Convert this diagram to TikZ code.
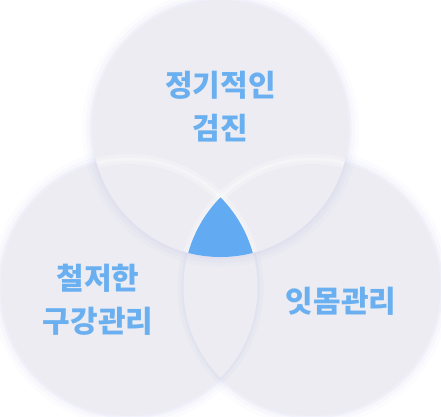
\documentclass[tikz,border=0pt]{standalone}
\usepackage{fontspec}
\setmainfont{Noto Sans CJK KR}
\definecolor{bubblegray}{HTML}{ECECF2}
\definecolor{bubbleshade}{HTML}{AEB3EA}
\definecolor{coreblue}{HTML}{62AAF2}
\definecolor{textblue}{HTML}{6AB0F0}

\begin{document}
\begin{tikzpicture}[x=1pt, y=-1pt,
	bubble/.style={fill=bubblegray},
	shade1/.style={bubbleshade, line width=20pt, opacity=0.035},
	shade2/.style={bubbleshade, line width=12pt, opacity=0.06},
	shade3/.style={bubbleshade, line width=5pt, opacity=0.09},
	venntext/.style={text=textblue, align=center,
		font=\fontsize{30}{43}\selectfont\bfseries}]
	\fill [white] (0, 0) rectangle (441, 416);
	\useasboundingbox (0, 0) rectangle (441, 416);
	\def\rad{128.5}
	\coordinate (left) at (129, 287.5);
	\coordinate (right) at (312, 287.5);
	\coordinate (top) at (220.5, 128.5);
	% the two lower circles with their soft shadows
	\foreach \c in {left, right} {
		\draw [shade1] (\c) circle (\rad);
		\draw [shade2] (\c) circle (\rad);
		\draw [shade3] (\c) circle (\rad);
	}
	\fill [bubble] (left) circle (\rad);
	\fill [bubble] (right) circle (\rad);
	% each lower circle shades the other one
	\begin{scope}
		\clip (left) circle (\rad);
		\draw [shade2] (right) circle (\rad);
		\draw [shade3] (right) circle (\rad);
	\end{scope}
	\begin{scope}
		\clip (right) circle (\rad);
		\draw [shade2] (left) circle (\rad);
		\draw [shade3] (left) circle (\rad);
	\end{scope}
	\begin{scope}
		\clip (left) circle (\rad);
		\fill [bubble] (right) circle (\rad);
	\end{scope}
	% the top circle lies over both
	\draw [shade1] (top) circle (\rad);
	\draw [shade2] (top) circle (\rad);
	\draw [shade3] (top) circle (\rad);
	\fill [bubble] (top) circle (\rad);
	% light rims of the lower circles seen through the top one
	\begin{scope}
		\clip (top) circle (\rad);
		\draw [white, line width=10pt, opacity=0.25] (left) circle (\rad);
		\draw [white, line width=10pt, opacity=0.25] (right) circle (\rad);
		\draw [white, line width=3pt, opacity=0.35] (left) circle (\rad);
		\draw [white, line width=3pt, opacity=0.35] (right) circle (\rad);
	\end{scope}
	% common part of all three
	\begin{scope}
		\clip (left) circle (\rad);
		\clip (right) circle (\rad);
		\fill [coreblue] (top) circle (\rad);
	\end{scope}
	\node [venntext] (checkup) at (220.5, 106.5) {정기적인\\검진};
	\node [venntext] (oralcare) at (98, 299.5) {철저한\\구강관리};
	\node [venntext] (gumcare) at (341, 301) {잇몸관리};
\end{tikzpicture}
\end{document}
